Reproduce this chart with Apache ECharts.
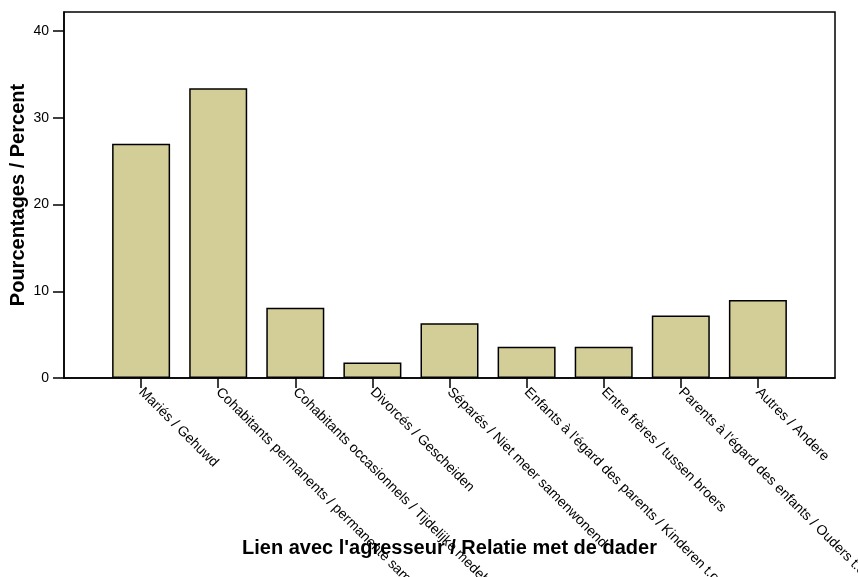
<!DOCTYPE html>
<html>
<head>
<meta charset="utf-8">
<script src="https://cdn.jsdelivr.net/npm/echarts@6/dist/echarts.min.js"></script>
<style>
  html, body { margin: 0; padding: 0; background: #fff; }
  #chart { width: 858px; height: 577px; }
</style>
</head>
<body>
<div id="chart"></div>
<script>
  // categories / values
  var categories = [
    'Mariés / Gehuwd',
    'Cohabitants permanents / permanente samenwonenden',
    'Cohabitants occasionnels / Tijdelijke medebewoners',
    'Divorcés / Gescheiden',
    'Séparés / Niet meer samenwonend',
    "Enfants à l'égard des parents / Kinderen t.o.v. ouders",
    'Entre frères / tussen broers',
    "Parents à l'égard des enfants / Ouders t.o.v. kinderen",
    'Autres / Andere'
  ];
  var percents = [27.0, 33.4, 8.1, 1.8, 6.3, 3.6, 3.6, 7.2, 9.0];
  var yTicks = [0, 10, 20, 30, 40];

  // empty slot at each end so bars sit at 1..9 of a 0..10 axis
  var xData = [''].concat(categories, ['']);
  var barData = [null].concat(percents, [null]);

  var myChart = echarts.init(document.getElementById('chart'));
  var font = 'Liberation Sans, Arial, sans-serif';

  myChart.setOption({
    animation: false,
    grid: {
      left: 64,
      right: 23,
      top: 12,
      bottom: 199,
      outerBoundsMode: 'none',
      containLabel: false,
      show: true,
      borderColor: '#000',
      borderWidth: 1.5
    },
    xAxis: {
      type: 'category',
      data: xData,
      boundaryGap: false,
      name: "Lien avec l'agresseur / Relatie met de dader",
      nameLocation: 'middle',
      nameGap: 160,
      nameMoveOverlap: false,
      nameTextStyle: { color: '#000', fontWeight: 'bold', fontSize: 20, fontFamily: font },
      axisLine: { lineStyle: { color: '#000', width: 1.5 } },
      axisTick: {
        length: 10,
        interval: function (i) { return i > 0 && i < xData.length - 1; },
        lineStyle: { color: '#000', width: 1.5 }
      },
      axisLabel: {
        rotate: -45,
        margin: 12,
        interval: 0,
        color: '#000',
        fontSize: 14,
        fontFamily: font
      },
      splitLine: { show: false }
    },
    yAxis: {
      type: 'value',
      min: 0,
      max: 42.2,
      name: 'Pourcentages / Percent',
      nameLocation: 'middle',
      nameGap: 36,
      nameMoveOverlap: false,
      nameTextStyle: { color: '#000', fontWeight: 'bold', fontSize: 20, fontFamily: font },
      axisLine: { show: true, lineStyle: { color: '#000', width: 1.5 } },
      axisTick: {
        show: true,
        length: 11,
        customValues: yTicks,
        lineStyle: { color: '#000', width: 1.5 }
      },
      axisLabel: {
        customValues: yTicks,
        margin: 15,
        color: '#000',
        fontSize: 14,
        fontFamily: font
      },
      splitLine: { show: false }
    },
    series: [{
      type: 'bar',
      data: barData,
      barWidth: 58,
      itemStyle: {
        color: '#d3ce97',
        borderColor: '#000',
        borderWidth: 1.5
      }
    }]
  });
</script>
</body>
</html>
